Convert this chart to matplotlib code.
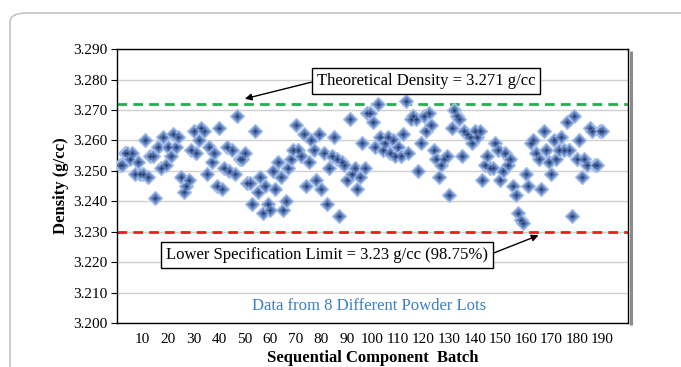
import matplotlib
matplotlib.use("Agg")
import matplotlib.pyplot as plt
from matplotlib.patches import FancyBboxPatch
import numpy as np

plt.rcParams['font.family'] = ['Liberation Serif', 'DejaVu Serif']

density = [
    3.252, 3.252, 3.256, 3.256, 3.254, 3.256, 3.249, 3.253, 3.249, 3.249,
    3.260, 3.248, 3.255, 3.255, 3.241, 3.258, 3.251, 3.261, 3.252, 3.258,
    3.255, 3.262, 3.258, 3.261, 3.248, 3.243, 3.245, 3.247, 3.257, 3.263,
    3.256, 3.260, 3.264, 3.263, 3.249, 3.258, 3.253, 3.256, 3.245, 3.264,
    3.244, 3.251, 3.258, 3.250, 3.257, 3.249, 3.268, 3.254, 3.254, 3.256,
    3.246, 3.246, 3.239, 3.263, 3.243, 3.248, 3.236, 3.245, 3.239, 3.237,
    3.250, 3.244, 3.253, 3.248, 3.237, 3.240, 3.251, 3.254, 3.257, 3.265,
    3.257, 3.255, 3.262, 3.245, 3.253, 3.260, 3.257, 3.247, 3.262, 3.244,
    3.256, 3.239, 3.251, 3.255, 3.261, 3.254, 3.235, 3.253, 3.252, 3.247,
    3.267, 3.249, 3.251, 3.244, 3.248, 3.259, 3.251, 3.269, 3.269, 3.266,
    3.258, 3.272, 3.261, 3.257, 3.259, 3.261, 3.256, 3.260, 3.255, 3.258,
    3.255, 3.262, 3.273, 3.256, 3.267, 3.268, 3.267, 3.250, 3.259, 3.268,
    3.263, 3.269, 3.265, 3.257, 3.254, 3.248, 3.252, 3.254, 3.255, 3.242,
    3.264, 3.270, 3.268, 3.267, 3.255, 3.263, 3.262, 3.261, 3.259, 3.263,
    3.261, 3.263, 3.247, 3.252, 3.255, 3.251, 3.251, 3.259, 3.257, 3.247,
    3.250, 3.256, 3.252, 3.254, 3.245, 3.242, 3.236, 3.234, 3.233, 3.249,
    3.245, 3.259, 3.260, 3.256, 3.254, 3.244, 3.263, 3.257, 3.253, 3.249,
    3.260, 3.254, 3.257, 3.261, 3.257, 3.266, 3.257, 3.235, 3.268, 3.254,
    3.260, 3.248, 3.254, 3.252, 3.264, 3.263, 3.252, 3.252, 3.263, 3.263,
]
batch = list(range(1, len(density) + 1))

theoretical_line = 3.272
lower_spec = 3.230
y_ticks = [3.200, 3.210, 3.220, 3.230, 3.240, 3.250, 3.260, 3.270, 3.280, 3.290]
x_ticks = list(range(10, 200, 10))

fig = plt.figure(figsize=(6.81, 3.67), dpi=100)

# outer rounded frame
frame = FancyBboxPatch((0.0147, -0.2), 1.2, 1.1646, boxstyle="round,pad=0,rounding_size=0.025",
                       transform=fig.transFigure, facecolor='none', edgecolor='#c4c4c4',
                       linewidth=1.2, zorder=-1)
fig.patches.append(frame)

ax = fig.add_axes([0.172, 0.120, 0.750, 0.746])
ax.set_facecolor('white')

ax.set_xlim(0, 200)
ax.set_ylim(3.200, 3.290)
ax.set_yticks(y_ticks)
ax.set_yticklabels([f"{v:.3f}" for v in y_ticks], fontsize=11)
ax.set_xticks(x_ticks)
ax.set_xticklabels([str(v) for v in x_ticks], fontsize=11)
ax.tick_params(axis='x', length=0, pad=7)
ax.tick_params(axis='y', length=4, direction='out', pad=3)
ax.grid(axis='y', color='#d0d0d0', linewidth=1.0)
ax.set_axisbelow(True)
for s in ax.spines.values():
    s.set_color('black')
    s.set_linewidth(1.0)

# plot-area shadow on right edge
ax.plot([1.006, 1.006], [-0.008, 0.992], transform=ax.transAxes, color='#8a8a8a',
        linewidth=2.2, clip_on=False, zorder=1, solid_capstyle='butt')

ax.set_ylabel('Density (g/cc)', fontsize=12, fontweight='bold', labelpad=3)
ax.set_xlabel('Sequential Component  Batch', fontsize=12, fontweight='bold', labelpad=3)

# reference lines
ax.axhline(theoretical_line, color='#22b04a', linewidth=2.0, dashes=(3.5, 2.2), zorder=2)
ax.axhline(lower_spec, color='#ee1c1c', linewidth=2.0, dashes=(3.5, 2.2), zorder=2)

# diamonds with layered shading
ax.plot(batch, density, linestyle='none', marker='D', ms=7.2,
        markerfacecolor='#7393cc', markeredgecolor='#a9c1ea', markeredgewidth=1.0, zorder=3)
ax.plot(batch, density, linestyle='none', marker='D', ms=4.0,
        markerfacecolor='#506fa8', markeredgecolor='none', zorder=4)
ax.plot(batch, density, linestyle='none', marker='D', ms=1.8,
        markerfacecolor='#2c4170', markeredgecolor='none', zorder=5)

# annotations
ax.annotate('Theoretical Density = 3.271 g/cc', xy=(50, 3.2737), xytext=(121, 3.2796),
            fontsize=12, ha='center', va='center',
            bbox=dict(boxstyle='square,pad=0.3', facecolor='white', edgecolor='black', linewidth=1.0),
            arrowprops=dict(arrowstyle='-|>', color='black', linewidth=1.0, mutation_scale=10,
                            shrinkA=0, shrinkB=0, relpos=(0, 0.5)),
            zorder=6)
ax.annotate('Lower Specification Limit = 3.23 g/cc (98.75%)', xy=(165, 3.2288), xytext=(82, 3.2222),
            fontsize=12, ha='center', va='center',
            bbox=dict(boxstyle='square,pad=0.3', facecolor='white', edgecolor='black', linewidth=1.0),
            arrowprops=dict(arrowstyle='-|>', color='black', linewidth=1.0, mutation_scale=10,
                            shrinkA=0, shrinkB=0, relpos=(1, 0.5)),
            zorder=6)
ax.text(98.5, 3.2056, 'Data from 8 Different Powder Lots', fontsize=12, color='#3b80c6',
        ha='center', va='center', zorder=6)

fig.savefig('out.png', dpi=100)
